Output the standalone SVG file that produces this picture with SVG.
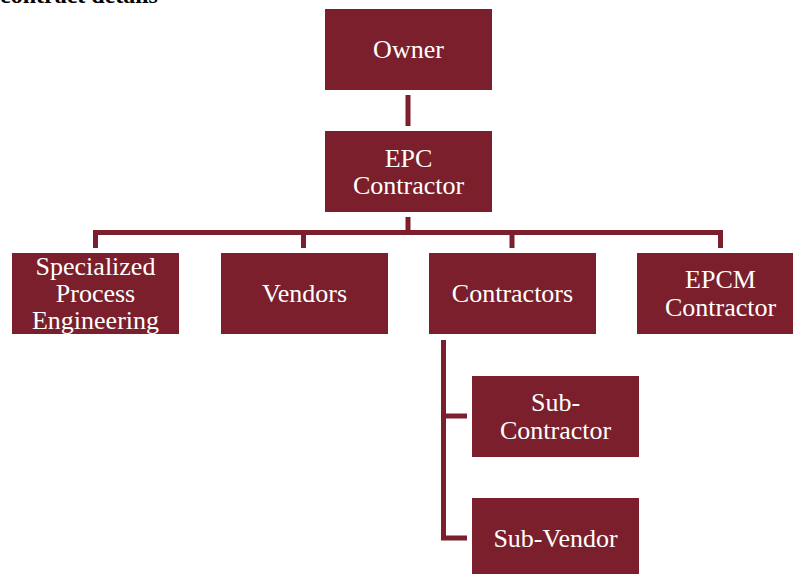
<svg xmlns="http://www.w3.org/2000/svg" width="793" height="574" viewBox="0 0 793 574">
<style>
.box{fill:#7a1f2b}
.t{fill:#ffffff;font-family:"Liberation Serif","Times New Roman",serif;font-size:26px;text-anchor:middle}
.ln{stroke:#7a1f2b;stroke-width:5;fill:none}
.hd{font-family:"Liberation Serif","Times New Roman",serif;font-size:24px;font-weight:bold;fill:#000}
</style>
<rect width="793" height="574" fill="#ffffff"/>
<text class="hd" x="0" y="3">contract details</text>
<g id="connectors">
<line class="ln" x1="408" y1="95" x2="408" y2="126"/>
<line class="ln" x1="408" y1="217" x2="408" y2="233"/>
<polyline class="ln" points="95.5,248 95.5,232.5 720.5,232.5 720.5,248"/>
<line class="ln" x1="303.5" y1="232.5" x2="303.5" y2="248"/>
<line class="ln" x1="512" y1="232.5" x2="512" y2="248"/>
<polyline class="ln" points="443.5,340 443.5,538 467,538"/>
<line class="ln" x1="443.5" y1="416" x2="467" y2="416"/>
</g>
<g id="owner"><rect class="box" x="325" y="9" width="167" height="81"/><text class="t" x="408.5" y="57.5">Owner</text></g>
<g id="epc"><rect class="box" x="325" y="131" width="167" height="81"/><text class="t" x="408.5" y="167">EPC</text><text class="t" x="408.5" y="194">Contractor</text></g>
<g id="specialized"><rect class="box" x="12" y="253" width="167" height="81"/><text class="t" x="95.5" y="275">Specialized</text><text class="t" x="95.5" y="302">Process</text><text class="t" x="95.5" y="329">Engineering</text></g>
<g id="vendors"><rect class="box" x="221" y="253" width="167" height="81"/><text class="t" x="304.5" y="302">Vendors</text></g>
<g id="contractors"><rect class="box" x="429" y="253" width="167" height="81"/><text class="t" x="512.5" y="302">Contractors</text></g>
<g id="epcm"><rect class="box" x="637" y="253" width="167" height="81"/><text class="t" x="720.5" y="288">EPCM</text><text class="t" x="720.5" y="316">Contractor</text></g>
<g id="subcontractor"><rect class="box" x="472" y="376" width="167" height="81"/><text class="t" x="555.5" y="411">Sub-</text><text class="t" x="555.5" y="439">Contractor</text></g>
<g id="subvendor"><rect class="box" x="472" y="498" width="167" height="81"/><text class="t" x="555.5" y="547">Sub-Vendor</text></g>
</svg>
